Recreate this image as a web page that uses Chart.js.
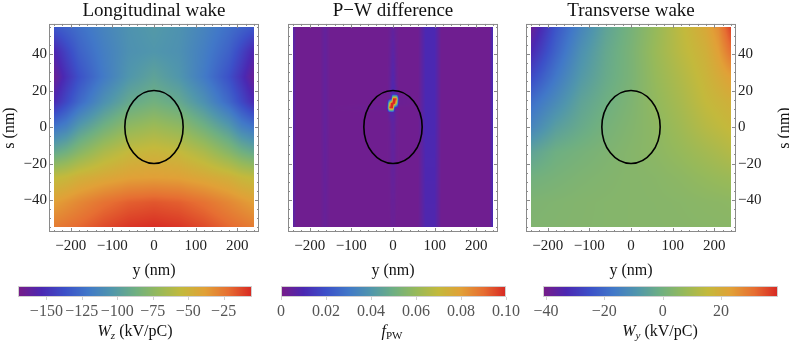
<!DOCTYPE html>
<html>
<head>
<meta charset="utf-8">
<script src="https://cdn.jsdelivr.net/npm/chart.js@4.4.1/dist/chart.umd.min.js"></script>
<style>
  body { margin: 0; background: #fff; width: 789px; height: 342px; position: relative; overflow: hidden; }
  canvas { position: absolute; }
</style>
</head>
<body>
<canvas id="p1" width="270" height="280" style="left:0;top:0"></canvas>
<canvas id="p2" width="240" height="280" style="left:270px;top:0"></canvas>
<canvas id="p3" width="274" height="280" style="left:515px;top:0"></canvas>
<canvas id="b1" width="270" height="62" style="left:0;top:280px"></canvas>
<canvas id="b2" width="260" height="62" style="left:265px;top:280px"></canvas>
<canvas id="b3" width="264" height="62" style="left:525px;top:280px"></canvas>
<script>
// axis ticks
const yTicks = [-200, -100, 0, 100, 200];
const sTicks = [-40, -20, 0, 20, 40];
const wzTicks = [-150, -125, -100, -75, -50, -25];
const fpwTicks = [0, 0.02, 0.04, 0.06, 0.08, 0.10];
const wyTicks = [-40, -20, 0, 20];

// bunch ellipse (nm): centre and half widths
const bunch = { y: 0, s: 0, ry: 70, rs: 20 };

// rows of s (nm), top to bottom
const gridS = [55, 41.25, 27.5, 13.75, 0, -13.75, -27.5, -41.25, -55];

// longitudinal wake W_z (kV/pC)
const wzY = [-240, -210, -180, -120, -60, 0, 60, 120, 180, 210, 240];
const wz = [
  [-134, -129, -124, -114, -106, -102, -106, -114, -124, -129, -134],
  [-155, -142, -130, -117, -107, -104, -107, -117, -130, -142, -155],
  [-165, -150, -137, -119, -104, -96, -104, -119, -137, -150, -165],
  [-153, -140, -127, -107, -92, -86, -92, -107, -127, -140, -153],
  [-122, -115, -102, -86, -73, -68, -73, -86, -102, -115, -122],
  [-92, -86, -77, -63, -54, -51, -54, -63, -77, -86, -92],
  [-56, -53, -48, -43, -39, -38, -39, -43, -48, -53, -56],
  [-38, -34, -30, -23, -18, -16, -18, -23, -30, -34, -38],
  [-26, -23, -20, -13, -8, -6, -8, -13, -20, -23, -26]
];

// P-W difference f_PW
const fpwY = [-240, -232, -175, -163, -151, -14, -8, -4, 0, 4, 8, 14, 60, 78, 100, 116, 232, 240];
const fpwS = [55, 24, 18, 15.5, 13, 10.5, 8, 2, -55];
const fpw = [
  [0.008, 0.002, 0.002, 0.005, 0.002, 0.002, 0.003, 0.004, 0.005, 0.004, 0.003, 0.002, 0.002, 0.010, 0.010, 0.002, 0.002, 0.012],
  [0.008, 0.002, 0.002, 0.005, 0.002, 0.002, 0.004, 0.007, 0.009, 0.007, 0.004, 0.002, 0.002, 0.010, 0.010, 0.002, 0.002, 0.012],
  [0.008, 0.002, 0.002, 0.005, 0.002, 0.002, 0.004, 0.008, 0.009, 0.009, 0.006, 0.002, 0.002, 0.010, 0.010, 0.002, 0.002, 0.012],
  [0.008, 0.002, 0.002, 0.005, 0.002, 0.002, 0.004, 0.008, 0.100, 0.100, 0.100, 0.003, 0.002, 0.010, 0.010, 0.002, 0.002, 0.012],
  [0.008, 0.002, 0.002, 0.005, 0.002, 0.002, 0.070, 0.100, 0.100, 0.100, 0.070, 0.003, 0.002, 0.010, 0.010, 0.002, 0.002, 0.012],
  [0.008, 0.002, 0.002, 0.005, 0.002, 0.003, 0.100, 0.100, 0.100, 0.008, 0.004, 0.002, 0.002, 0.010, 0.010, 0.002, 0.002, 0.012],
  [0.008, 0.002, 0.002, 0.005, 0.002, 0.002, 0.006, 0.008, 0.008, 0.006, 0.003, 0.002, 0.002, 0.010, 0.010, 0.002, 0.002, 0.012],
  [0.008, 0.002, 0.002, 0.005, 0.002, 0.002, 0.003, 0.005, 0.006, 0.005, 0.003, 0.002, 0.002, 0.010, 0.010, 0.002, 0.002, 0.012],
  [0.007, 0.002, 0.002, 0.004, 0.002, 0.002, 0.002, 0.003, 0.003, 0.003, 0.002, 0.002, 0.002, 0.009, 0.009, 0.002, 0.002, 0.011]
];

// transverse wake W_y (kV/pC)
const wyY = [-240, -180, -120, -60, 0, 60, 120, 180, 210, 240];
const wy = [
  [-38.6, -24, -13.6, -4.8, 0.9, 7.3, 14.5, 21, 26.6, 37],
  [-33, -21, -10.4, -3.2, 1.7, 8, 13.7, 18.6, 23.4, 31],
  [-26.5, -16.8, -8, -2.4, 1.7, 7.3, 12, 17, 20, 23.4],
  [-19, -12, -4.8, -0.8, 2.5, 6.5, 10.5, 15.4, 17, 18.6],
  [-13.6, -6.4, -2.4, 0.9, 3.3, 5.7, 9, 13, 14.5, 16],
  [-4.8, -0.8, 0.9, 2.5, 4, 5.3, 7.3, 9.7, 11, 12.5],
  [0, 1.3, 2.5, 3.3, 4, 4.5, 5.5, 7, 7.7, 8.3],
  [2.5, 3, 3.5, 3.8, 4, 4.2, 4.5, 5, 5.2, 5.5],
  [3, 3.3, 3.6, 3.8, 4, 4.1, 4.3, 4.5, 4.6, 4.7]
];

// colour bar ranges
const wzRange = [-170, -5];
const fpwRange = [0, 0.1];
const wyRange = [-41, 39.5];

const serif = 'Liberation Serif';
const rainbow = [
  [0.00, 120, 28, 135], [0.10, 75, 40, 178], [0.20, 60, 80, 200], [0.30, 65, 120, 200],
  [0.40, 80, 150, 172], [0.50, 110, 175, 130], [0.60, 150, 185, 90], [0.70, 195, 185, 60],
  [0.80, 225, 160, 55], [0.90, 230, 110, 50], [1.00, 215, 40, 35]
];

function colour(t) {
  t = Math.max(0, Math.min(1, t));
  for (let i = 0; i < rainbow.length - 1; i++) {
    const a = rainbow[i], b = rainbow[i + 1];
    if (t <= b[0]) {
      const f = (t - a[0]) / (b[0] - a[0]);
      return [a[1] + f * (b[1] - a[1]), a[2] + f * (b[2] - a[2]), a[3] + f * (b[3] - a[3])];
    }
  }
  const l = rainbow[rainbow.length - 1];
  return [l[1], l[2], l[3]];
}

function locate(arr, v) {
  for (let i = 0; i < arr.length - 1; i++) {
    const f = (v - arr[i]) / (arr[i + 1] - arr[i]);
    if (f >= 0 && f <= 1) return [i, f];
  }
  return Math.abs(v - arr[0]) < Math.abs(v - arr[arr.length - 1]) ? [0, 0] : [arr.length - 2, 1];
}

const fmt = v => (v < 0 ? '\u2212' + Math.abs(v) : String(v));

// density image + bunch ellipse
const heatPlugin = {
  id: 'heat',
  beforeDatasetsDraw(chart, args, o) {
    const { x, y } = chart.scales;
    const ctx = chart.ctx;
    const x0 = Math.round(x.getPixelForValue(o.ys[0]));
    const x1 = Math.round(x.getPixelForValue(o.ys[o.ys.length - 1]));
    const y0 = Math.round(y.getPixelForValue(o.ss[0]));
    const y1 = Math.round(y.getPixelForValue(o.ss[o.ss.length - 1]));
    const w = x1 - x0, h = y1 - y0;
    const off = document.createElement('canvas');
    off.width = w; off.height = h;
    const octx = off.getContext('2d');
    const img = octx.createImageData(w, h);
    for (let j = 0; j < h; j++) {
      const [r, fr] = locate(o.ss, y.getValueForPixel(y0 + j + 0.5));
      for (let i = 0; i < w; i++) {
        const [c, fc] = locate(o.ys, x.getValueForPixel(x0 + i + 0.5));
        const z = o.z;
        const v = (1 - fr) * ((1 - fc) * z[r][c] + fc * z[r][c + 1]) +
                  fr * ((1 - fc) * z[r + 1][c] + fc * z[r + 1][c + 1]);
        const col = colour((v - o.range[0]) / (o.range[1] - o.range[0]));
        const k = 4 * (j * w + i);
        img.data[k] = col[0]; img.data[k + 1] = col[1]; img.data[k + 2] = col[2]; img.data[k + 3] = 255;
      }
    }
    octx.putImageData(img, 0, 0);
    ctx.drawImage(off, x0, y0);

    const cx = x.getPixelForValue(bunch.y), cy = y.getPixelForValue(bunch.s);
    const rx = x.getPixelForValue(bunch.y + bunch.ry) - cx;
    const ry = cy - y.getPixelForValue(bunch.s + bunch.rs);
    ctx.save();
    ctx.beginPath();
    ctx.ellipse(cx, cy, rx, ry, 0, 0, Math.PI * 2);
    ctx.strokeStyle = '#000';
    ctx.lineWidth = 1.6;
    ctx.stroke();
    ctx.restore();
  }
};

// Mathematica-like frame with inward ticks on all sides
const framePlugin = {
  id: 'frame',
  afterDraw(chart) {
    const { x, y } = chart.scales;
    const a = chart.chartArea;
    const ctx = chart.ctx;
    ctx.save();
    ctx.strokeStyle = '#8a8a8a';
    ctx.lineWidth = 1;
    ctx.strokeRect(a.left + 0.5, a.top + 0.5, a.right - a.left - 1, a.bottom - a.top - 1);
    ctx.beginPath();
    for (let v = -240; v <= 240; v += 20) {
      const p = Math.round(x.getPixelForValue(v)) + 0.5;
      const L = v % 100 === 0 ? 4 : 2;
      ctx.moveTo(p, a.bottom); ctx.lineTo(p, a.bottom - L);
      ctx.moveTo(p, a.top); ctx.lineTo(p, a.top + L);
    }
    for (let v = -55; v <= 55; v += 5) {
      const p = Math.round(y.getPixelForValue(v)) + 0.5;
      const L = v % 20 === 0 ? 4 : 2;
      ctx.moveTo(a.left, p); ctx.lineTo(a.left + L, p);
      ctx.moveTo(a.right, p); ctx.lineTo(a.right - L, p);
    }
    ctx.stroke();
    ctx.restore();
  }
};

// "s (nm)" on the right side, reading upwards
const rightTitle = {
  id: 'rightTitle',
  afterDraw(chart, args, o) {
    if (!o.text) return;
    const a = chart.chartArea, ctx = chart.ctx;
    ctx.save();
    ctx.translate(o.x, (a.top + a.bottom) / 2);
    ctx.rotate(-Math.PI / 2);
    ctx.font = '16px "' + serif + '"';
    ctx.fillStyle = '#111';
    ctx.textAlign = 'center';
    ctx.textBaseline = 'middle';
    ctx.fillText(o.text, 0, 0);
    ctx.restore();
  }
};

const tickFont = { family: serif, size: 15 };

function panel(id, p) {
  return new Chart(document.getElementById(id), {
    type: 'scatter',
    data: { datasets: [] },
    options: {
      responsive: false,
      animation: false,
      events: [],
      layout: { padding: p.pad },
      plugins: {
        legend: { display: false },
        tooltip: { enabled: false },
        title: {
          display: true, text: p.title, fullSize: false, color: '#111',
          font: { family: serif, size: 19, weight: 'normal' },
          lineHeight: 1.15,
          padding: { top: 0, bottom: 1.15 }
        },
        heat: { ys: p.ys, ss: p.ss, z: p.z, range: p.range },
        rightTitle: { text: p.rightTitle, x: p.rightTitleX }
      },
      scales: {
        x: {
          type: 'linear', min: -252, max: 252,
          grid: { display: false, drawTicks: false }, border: { display: false },
          afterBuildTicks: s => { s.ticks = yTicks.map(v => ({ value: v })); },
          afterFit: s => { s.height = 48; },
          ticks: { font: tickFont, color: '#222', padding: 5, maxRotation: 0, callback: fmt },
          title: { display: true, text: 'y (nm)', color: '#111', font: { family: serif, size: 16 }, padding: { top: 1, bottom: 0 } }
        },
        y: {
          type: 'linear', min: -57.5, max: 56.5, position: p.side,
          display: p.showY,
          grid: { display: false, drawTicks: false }, border: { display: false },
          afterBuildTicks: s => { s.ticks = sTicks.map(v => ({ value: v })); },
          afterFit: s => { s.width = p.yw; },
          ticks: { font: tickFont, color: '#222', padding: 2, callback: fmt },
          title: { display: p.leftTitle, text: 's (nm)', color: '#111', font: { family: serif, size: 16 }, padding: 0 }
        }
      }
    },
    plugins: [heatPlugin, framePlugin, rightTitle]
  });
}

panel('p1', { title: 'Longitudinal wake', ys: wzY, ss: gridS, z: wz, range: wzRange,
  side: 'left', showY: true, yw: 49, leftTitle: true, pad: { left: 0, right: 11, top: 0, bottom: 0 } });
panel('p2', { title: 'P\u2212W difference', ys: fpwY, ss: fpwS, z: fpw, range: fpwRange,
  side: 'left', showY: false, yw: 0, leftTitle: false, pad: { left: 18, right: 12, top: 0, bottom: 0 } });
panel('p3', { title: 'Transverse wake', ys: wyY, ss: gridS, z: wy, range: wyRange,
  side: 'right', showY: true, yw: 53, leftTitle: false, rightTitle: 's (nm)', rightTitleX: 270,
  pad: { left: 11, right: 0, top: 0, bottom: 0 } });

// colour bars
const barPlugin = {
  id: 'bar',
  beforeDatasetsDraw(chart, args, o) {
    const x = chart.scales.x, a = chart.chartArea, ctx = chart.ctx;
    for (let px = Math.round(a.left); px < Math.round(a.right); px++) {
      const v = x.getValueForPixel(px + 0.5);
      const c = colour((v - x.min) / (x.max - x.min));
      ctx.fillStyle = 'rgb(' + c.map(Math.round).join(',') + ')';
      ctx.fillRect(px, a.top, 1, a.bottom - a.top);
    }
    ctx.save();
    ctx.strokeStyle = '#d0d0d0';
    ctx.lineWidth = 1;
    ctx.strokeRect(a.left + 0.5, a.top + 0.5, a.right - a.left - 1, a.bottom - a.top - 1);
    ctx.beginPath();
    o.ticks.forEach(v => {
      const p = Math.round(x.getPixelForValue(v)) + 0.5;
      ctx.moveTo(p, a.bottom); ctx.lineTo(p, a.bottom + 3);
    });
    ctx.stroke();
    ctx.restore();
  },
  afterDraw(chart, args, o) {
    const ctx = chart.ctx;
    const parts = o.label;
    let w = 0;
    parts.forEach(pt => { ctx.font = pt.f; w += ctx.measureText(pt.t).width; });
    let px = o.x - w / 2;
    ctx.save();
    ctx.fillStyle = '#111';
    ctx.textBaseline = 'alphabetic';
    parts.forEach(pt => {
      ctx.font = pt.f;
      ctx.fillText(pt.t, px, o.y + (pt.dy || 0));
      px += ctx.measureText(pt.t).width;
    });
    ctx.restore();
  }
};

function colourBar(id, p) {
  return new Chart(document.getElementById(id), {
    type: 'scatter',
    data: { datasets: [] },
    options: {
      responsive: false,
      animation: false,
      events: [],
      layout: { padding: { left: p.left, right: p.right, top: 6, bottom: 0 } },
      plugins: {
        legend: { display: false },
        tooltip: { enabled: false },
        bar: { ticks: p.ticks, label: p.label, x: p.labelX, y: 56 }
      },
      scales: {
        x: {
          type: 'linear', min: p.range[0], max: p.range[1],
          grid: { display: false, drawTicks: false }, border: { display: false },
          afterBuildTicks: s => { s.ticks = p.ticks.map(v => ({ value: v })); },
          afterFit: s => { s.height = 45; },
          ticks: { font: { family: serif, size: 16 }, color: '#555', padding: 5, maxRotation: 0, autoSkip: false, callback: p.fmt }
        },
        y: { display: false, min: 0, max: 1 }
      }
    },
    plugins: [barPlugin]
  });
}

const it = '16px "' + serif + '"';
const sub = '11px "' + serif + '"';
colourBar('b1', { left: 18, right: 18, range: wzRange, ticks: wzTicks, fmt: fmt, labelX: 135,
  label: [{ t: 'W', f: 'italic ' + it }, { t: 'z', f: 'italic ' + sub, dy: 3 }, { t: ' (kV/pC)', f: it }] });
colourBar('b2', { left: 16, right: 18, range: fpwRange, ticks: fpwTicks,
  fmt: v => (v === 0 ? '0' : v.toFixed(2)), labelX: 127,
  label: [{ t: 'f', f: 'italic ' + it }, { t: 'PW', f: sub, dy: 3 }] });
colourBar('b3', { left: 18, right: 11, range: wyRange, ticks: wyTicks, fmt: fmt, labelX: 135,
  label: [{ t: 'W', f: 'italic ' + it }, { t: 'y', f: 'italic ' + sub, dy: 3 }, { t: ' (kV/pC)', f: it }] });
</script>
</body>
</html>
